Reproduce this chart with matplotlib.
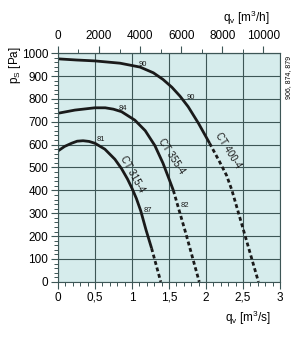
import matplotlib.pyplot as plt
from matplotlib.ticker import MultipleLocator

plt.rcParams['font.family'] = ['Liberation Sans', 'DejaVu Sans']
plt.rcParams['mathtext.fontset'] = 'custom'
plt.rcParams['mathtext.rm'] = 'Liberation Sans'
plt.rcParams['mathtext.it'] = 'Liberation Sans:italic'

# fan curves, q in m3/s, p in Pa (solid part then dashed part)
q315 = [0, 0.09, 0.185, 0.26, 0.34, 0.42, 0.5, 0.635, 0.77, 0.86, 0.94, 1.0, 1.06, 1.12, 1.19, 1.266]
p315 = [572, 592, 606, 615, 617, 614, 606, 580, 536, 495, 450, 410, 365, 310, 228, 147]
q315d = [1.266, 1.39]
p315d = [147, 0]

q355 = [0, 0.23, 0.5, 0.64, 0.75, 0.86, 1.04, 1.18, 1.31, 1.42, 1.51, 1.56]
p355 = [737, 751, 761, 761, 755, 744, 707, 661, 596, 519, 443, 400]
q355d = [1.56, 1.735, 1.91]
p355d = [400, 205, 0]

q400 = [0, 0.25, 0.5, 0.84, 1.11, 1.29, 1.42, 1.54, 1.65, 1.76, 1.90, 2.05]
p400 = [975, 970, 966, 956, 939, 914, 885, 851, 812, 766, 693, 606]
q400d = [2.05, 2.19, 2.28, 2.35, 2.50, 2.71]
p400d = [606, 522, 465, 402, 235, 0]

names = ['CT 315-4', 'CT 355-4', 'CT 400-4']
name_pos = [(1.0, 470, -61), (1.54, 550, -57), (2.30, 575, -58)]
eff = ['81', '87', '84', '82', '90', '90']
eff_pos = [(0.58, 624), (1.21, 311), (0.88, 760), (1.72, 336), (1.15, 952), (1.79, 805)]

fig = plt.figure(figsize=(3, 3.45), dpi=100)
ax = fig.add_axes([0.193, 0.183, 0.74, 0.663])
ax.set_facecolor('#d6ecec')

for q, p, qd, pd in [(q315, p315, q315d, p315d), (q355, p355, q355d, p355d), (q400, p400, q400d, p400d)]:
    ax.plot(q, p, color='#1a1a1a', lw=2, solid_capstyle='butt', solid_joinstyle='round')
    ax.plot(qd, pd, color='#1a1a1a', lw=2, ls=(0, (1.4, 1.0)))

for n, (x, y, r) in zip(names, name_pos):
    ax.text(x, y, n, rotation=r, fontsize=7, ha='center', va='center', color='#1a1a1a')
for e, (x, y) in zip(eff, eff_pos):
    ax.text(x, y, e, fontsize=5.5, ha='center', va='center', color='#1a1a1a')

ax.set_xlim(0, 3)
ax.set_ylim(0, 1000)
ax.set_xticks([0, 0.5, 1, 1.5, 2, 2.5, 3])
ax.set_xticklabels(['0', '0,5', '1', '1,5', '2', '2,5', '3'])
ax.xaxis.set_minor_locator(MultipleLocator(0.1))
ax.yaxis.set_major_locator(MultipleLocator(100))
ax.yaxis.set_minor_locator(MultipleLocator(20))
ax.grid(True, which='major', color='#3d5656', lw=0.8)
for s in ax.spines.values():
    s.set_color('#3d5656')
    s.set_linewidth(0.8)
ax.tick_params(which='major', length=5, width=0.8, color='#3d5656', labelsize=8.5, pad=2)
ax.tick_params(which='minor', length=3, width=0.7, color='#3d5656')

top = ax.secondary_xaxis('top', functions=(lambda q: q * 3600, lambda h: h / 3600))
top.set_xticks([0, 2000, 4000, 6000, 8000, 10000])
top.xaxis.set_minor_locator(MultipleLocator(1000))
top.tick_params(which='major', length=5, width=0.8, color='#3d5656', labelsize=8.5, pad=3)
top.tick_params(which='minor', length=3, width=0.7, color='#3d5656')
top.spines['top'].set_color('#3d5656')

fig.text(0.05, 0.81, r'p$_\mathrm{S}$ [Pa]', rotation=90, fontsize=8.5, ha='center', va='center')
fig.text(0.82, 0.948, r'q$_\mathrm{v}$ [m$^3$/h]', fontsize=8.5, ha='center', va='center')
fig.text(0.825, 0.078, r'q$_\mathrm{v}$ [m$^3$/s]', fontsize=8.5, ha='center', va='center')
fig.text(0.963, 0.775, '906, 874, 879', rotation=90, fontsize=5, ha='center', va='center')

fig.savefig('out.png', dpi=100)
